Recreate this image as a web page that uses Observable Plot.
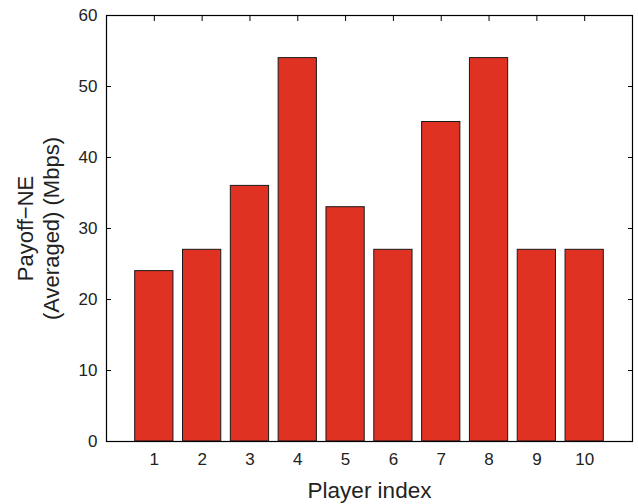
<!DOCTYPE html>
<html>
<head>
<meta charset="utf-8">
<script src="https://cdn.jsdelivr.net/npm/d3@7"></script>
<script src="https://cdn.jsdelivr.net/npm/@observablehq/plot@0.6"></script>
<style>
  html, body { margin: 0; padding: 0; background: #fff; }
  svg { font-family: "Liberation Sans", Arial, Helvetica, sans-serif; }
</style>
</head>
<body>
<div id="chart"></div>
<script>
// Averaged Nash-equilibrium payoff per player
const players = [1, 2, 3, 4, 5, 6, 7, 8, 9, 10];
const payoffs = [24, 27, 36, 54, 33, 27, 45, 54, 27, 27];
const yTicks = [0, 10, 20, 30, 40, 50, 60];
const xTicks = [1, 2, 3, 4, 5, 6, 7, 8, 9, 10];

const xLabel = "Player index";
const yLabel = "Payoff\u2212NE\n(Averaged) (Mbps)";

const data = players.map((p, i) => ({player: p, payoff: payoffs[i]}));
const barHalf = 0.4;

const chart = Plot.plot({
  width: 638,
  height: 504,
  marginLeft: 106,
  marginRight: 6,
  marginTop: 15,
  marginBottom: 63,
  style: {fontFamily: "'Liberation Sans', Arial, sans-serif", background: "#fff"},
  x: {type: "linear", domain: [0, 11], axis: null},
  y: {domain: [0, 60], axis: null},
  marks: [
    // inward tick marks on all four sides
    Plot.axisX(xTicks, {anchor: "bottom", tickSize: 5, dy: -5, text: null, label: null, stroke: "#000"}),
    Plot.axisX(xTicks, {anchor: "top", tickSize: 5, dy: 5, text: null, label: null, stroke: "#000"}),
    Plot.axisY(yTicks, {anchor: "left", tickSize: 5, dx: 5, text: null, label: null, stroke: "#000"}),
    Plot.axisY(yTicks, {anchor: "right", tickSize: 5, dx: -5, text: null, label: null, stroke: "#000"}),
    Plot.rectY(data, {
      x1: d => d.player - barHalf,
      x2: d => d.player + barHalf,
      y1: 0,
      y2: "payoff",
      fill: "#e03223",
      stroke: "#1a1a1a",
      strokeWidth: 1
    }),
    Plot.frame({stroke: "#000", strokeWidth: 1.2}),
    // tick labels
    Plot.axisX(xTicks, {anchor: "bottom", tickSize: 0, tickPadding: 11, fontSize: 17, fill: "#222", label: null}),
    Plot.axisY(yTicks, {anchor: "left", tickSize: 0, tickPadding: 9, fontSize: 17, fill: "#222", label: null}),
    // axis titles
    Plot.text([xLabel], {
      frameAnchor: "bottom", dy: 49, text: d => d,
      fontSize: 22.5, fill: "#222", lineAnchor: "middle"
    }),
    Plot.text([yLabel], {
      frameAnchor: "left", dx: -69, rotate: -90, text: d => d,
      fontSize: 22, fill: "#222", lineAnchor: "middle", lineHeight: 1.18, textAnchor: "middle"
    })
  ]
});

document.getElementById("chart").appendChild(chart);
</script>
</body>
</html>
